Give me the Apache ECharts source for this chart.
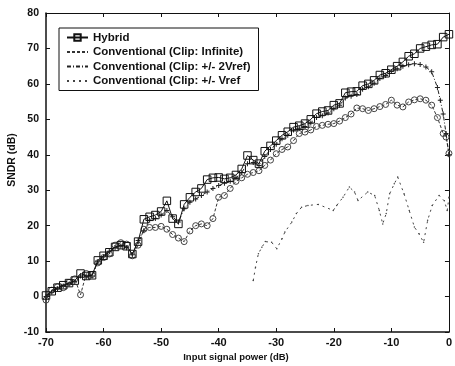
<!DOCTYPE html>
<html>
<head>
<meta charset="utf-8">
<script src="https://cdn.jsdelivr.net/npm/echarts@6/dist/echarts.min.js"></script>
<style>
  html, body { margin: 0; padding: 0; background: #fff; }
  #chart { width: 455px; height: 366px; }
</style>
</head>
<body>
<div id="chart"></div>
<script>
// Input signal power (dB) and SNDR (dB) for each converter variant
const seriesNames = [
  'Hybrid',
  'Conventional (Clip: Infinite)',
  'Conventional (Clip: +/- 2Vref)',
  'Conventional (Clip: +/- Vref'
];

const xTicks = [-70, -60, -50, -40, -30, -20, -10, 0];
const yTicks = [-10, 0, 10, 20, 30, 40, 50, 60, 70, 80];

const hybridX = [-70, -69, -68, -67, -66, -65, -64, -63, -62, -61, -60, -59, -58, -57, -56, -55, -54, -53, -52, -51,
  -50, -49, -48, -47, -46, -45, -44, -43, -42, -41, -40, -39, -38, -37, -36, -35, -34, -33, -32, -31,
  -30, -29, -28, -27, -26, -25, -24, -23, -22, -21, -20, -19, -18, -17, -16, -15, -14, -13, -12, -11,
  -10, -9, -8, -7, -6, -5, -4, -3, -2, -1, 0];
const hybridY = [0.3, 1.5, 2.5, 3.2, 3.8, 4.5, 6.5, 5.8, 6.0, 10.2, 11.5, 12.5, 14.0, 14.5, 14.2, 12.0, 15.5, 21.8, 22.5, 23.0,
  24.0, 27.0, 22.0, 20.5, 26.0, 28.0, 29.5, 30.5, 33.0, 33.5, 33.6, 33.2, 33.5, 34.3, 36.0, 39.8, 38.5, 37.5, 41.0, 42.5,
  44.0, 45.5, 46.5, 47.8, 48.2, 48.8, 50.0, 51.6, 52.2, 52.5, 54.0, 54.5, 57.5, 57.8, 57.9, 59.5, 60.0, 61.0, 62.5, 63.0,
  64.0, 65.0, 66.2, 67.8, 68.5, 70.0, 70.5, 71.0, 71.2, 73.2, 74.0];

const clipInfX = [-70, -69, -68, -67, -66, -65, -64, -63, -62, -61, -60, -59, -58, -57, -56, -55, -54, -53, -52, -51,
  -50, -49, -48, -47, -46, -45, -44, -43, -42, -41, -40, -39, -38, -37, -36, -35, -34, -33, -32, -31,
  -30, -29, -28, -27, -26, -25, -24, -23, -22, -21, -20, -19, -18, -17, -16, -15, -14, -13, -12, -11,
  -10, -9, -8, -7, -6, -5, -4, -3, -2, -1, -0.5, 0];
const clipInfY = [-1.0, 1.8, 2.8, 2.5, 4.0, 5.0, 0.5, 6.5, 6.2, 9.5, 11.0, 12.0, 14.5, 15.2, 14.8, 11.5, 14.5, 19.0, 19.5, 19.5,
  19.8, 19.0, 17.5, 16.5, 15.5, 18.5, 20.0, 20.5, 20.0, 22.0, 28.0, 28.5, 30.5, 32.5, 33.5, 34.5, 35.0, 35.5, 37.0, 38.5,
  40.3, 41.5, 42.2, 44.0, 46.0, 46.4, 47.0, 48.0, 48.3, 48.6, 48.8, 49.5, 50.5, 51.5, 53.2, 53.0, 52.5, 53.0, 53.6, 54.2,
  55.4, 54.0, 53.5, 54.9, 55.5, 55.8, 55.4, 54.0, 50.5, 46.0, 45.0, 40.4];

const clip2VrefX = [-70, -69, -68, -67, -66, -65, -64, -63, -62, -61, -60, -59, -58, -57, -56, -55, -54, -53, -52, -51,
  -50, -49, -48, -47, -46, -45, -44, -43, -42, -41, -40, -39, -38, -37, -36, -35, -34, -33, -32, -31,
  -30, -29, -28, -27, -26, -25, -24, -23, -22, -21, -20, -19, -18, -17, -16, -15, -14, -13, -12, -11,
  -10, -9, -8, -7, -6, -5, -4, -3, -2, -1.5, -1, -0.5, 0];
const clip2VrefY = [0.0, 1.2, 2.2, 3.0, 3.5, 4.2, 5.8, 5.5, 5.8, 9.8, 11.2, 12.8, 13.8, 14.2, 13.8, 11.8, 15.8, 18.6, 21.5, 22.0,
  23.0, 24.3, 22.5, 21.0, 24.8, 26.6, 27.5, 28.5, 29.5, 30.5, 31.3, 32.0, 32.5, 33.5, 35.0, 37.5, 37.8, 37.0, 39.5, 41.5,
  43.0, 44.5, 45.5, 47.0, 47.5, 48.0, 49.0, 50.5, 51.0, 51.8, 53.0, 54.0, 56.0, 56.5, 57.0, 58.5, 59.2, 60.2, 61.5, 62.4,
  63.5, 64.3, 65.0, 65.4, 65.7, 65.5, 64.8, 63.4, 59.0, 55.4, 51.5, 46.0, 40.0];

const clipVrefX = [-34, -33.6, -33.1, -32.5, -31.9, -30.8, -29.9, -29, -28.5, -27.3, -26.5, -25.6, -24.5, -22.7,
  -20.1, -19.5, -18.4, -17.3, -16.4, -15.8, -14.1, -12.9, -12.1, -11.5, -10.9, -10.3, -9.5, -8.9,
  -7.8, -6.9, -6, -5.2, -4.4, -3.7, -2.9, -1.7, -0.8, -0.3, 0];
const clipVrefY = [4.5, 8.3, 12.1, 13.9, 15.5, 15.3, 13.5, 16.3, 18.2, 21.0, 23.4, 25.2, 25.7, 26.0,
  24.3, 25.7, 28.0, 30.9, 29.5, 27.1, 29.5, 28.5, 24.3, 20.5, 23.4, 29.0, 31.8, 33.7,
  29.0, 24.3, 19.6, 17.7, 15.3, 21.5, 25.7, 28.5, 27.0, 24.3, 28.0];

function pairs(xs, ys) {
  return xs.map((x, i) => [x, ys[i]]);
}

const FONT = "'Liberation Sans', Arial, Helvetica, sans-serif";
const INK = '#111';
const CLEAR = 'rgba(0,0,0,0)';
const PLUS = 'path://M4,0h2v4h4v2h-4v4h-2v-4h-4v-2h4z';

const chart = echarts.init(document.getElementById('chart'), null, { renderer: 'canvas' });

const baseX = { type: 'value', min: -70, max: 0, interval: 10, splitLine: { show: false } };
const baseY = { type: 'value', min: -10, max: 80, interval: 10, splitLine: { show: false } };

chart.setOption({
  animation: false,
  backgroundColor: '#fff',
  grid: { left: 46, right: 3, top: 13, bottom: 34, containLabel: false },
  xAxis: [
    Object.assign({}, baseX, {
      position: 'bottom',
      axisLine: { onZero: false, lineStyle: { color: INK, width: 1.5 } },
      axisTick: { inside: true, length: 4, lineStyle: { color: INK } },
      axisLabel: {
        color: INK, fontFamily: FONT, fontSize: 11, fontWeight: 'bold', margin: 5,
        formatter: v => (xTicks.includes(v) ? String(v) : '')
      }
    }),
    Object.assign({}, baseX, {
      position: 'top',
      axisLine: { onZero: false, lineStyle: { color: INK, width: 1 } },
      axisTick: { inside: true, length: 4, lineStyle: { color: INK } },
      axisLabel: { show: false }
    })
  ],
  yAxis: [
    Object.assign({}, baseY, {
      position: 'left',
      axisLine: { onZero: false, lineStyle: { color: INK, width: 1.5 } },
      axisTick: { inside: true, length: 4, lineStyle: { color: INK } },
      axisLabel: {
        color: INK, fontFamily: FONT, fontSize: 10.5, fontWeight: 'bold', margin: 7,
        formatter: v => (yTicks.includes(v) ? String(v) : '')
      }
    }),
    Object.assign({}, baseY, {
      position: 'right',
      axisLine: { onZero: false, lineStyle: { color: INK, width: 1 } },
      axisTick: { inside: true, length: 4, lineStyle: { color: INK } },
      axisLabel: { show: false }
    })
  ],
  legend: {
    orient: 'vertical',
    left: 59,
    top: 28,
    padding: [3, 8, 3, 7],
    itemGap: 1.5,
    itemWidth: 21,
    itemHeight: 8,
    borderColor: INK,
    borderWidth: 1,
    backgroundColor: '#fff',
    textStyle: { color: INK, fontFamily: FONT, fontSize: 11.5, fontWeight: 'bold', lineHeight: 13 },
    data: [
      { name: seriesNames[0] },
      { name: seriesNames[1], itemStyle: { opacity: 0 } },
      { name: seriesNames[2], itemStyle: { opacity: 0 } },
      { name: seriesNames[3], itemStyle: { opacity: 0 } }
    ]
  },
  graphic: [
    {
      type: 'text', x: 12, y: 160, rotation: Math.PI / 2,
      style: { text: 'SNDR (dB)', fill: INK, font: "bold 10.5px " + FONT, align: 'center', verticalAlign: 'middle' }
    },
    {
      type: 'text', x: 236, y: 357,
      style: { text: 'Input signal power (dB)', fill: INK, font: "bold 9.5px " + FONT, align: 'center', verticalAlign: 'middle' }
    }
  ],
  series: [
    {
      name: seriesNames[3],
      type: 'line',
      data: pairs(clipVrefX, clipVrefY),
      symbol: 'circle',
      symbolSize: 1.5,
      itemStyle: { color: '#444' },
      lineStyle: { color: '#444', width: 1, type: [2, 4] },
      z: 2
    },
    {
      name: seriesNames[1],
      type: 'line',
      data: pairs(clipInfX, clipInfY),
      symbol: 'circle',
      symbolSize: 6,
      showAllSymbol: true,
      itemStyle: { color: CLEAR, borderColor: '#444', borderWidth: 1 },
      lineStyle: { color: '#333', width: 1, type: [3, 2] },
      z: 3
    },
    {
      name: seriesNames[2],
      type: 'line',
      data: pairs(clip2VrefX, clip2VrefY),
      symbol: PLUS,
      symbolSize: 5,
      showAllSymbol: true,
      itemStyle: { color: '#222' },
      lineStyle: { color: '#222', width: 1, type: [4, 2, 1, 2] },
      z: 4
    },
    {
      name: seriesNames[0],
      type: 'line',
      data: pairs(hybridX, hybridY),
      symbol: 'rect',
      symbolSize: 7.5,
      showAllSymbol: true,
      itemStyle: { color: CLEAR, borderColor: '#111', borderWidth: 1 },
      lineStyle: { color: '#111', width: 1 },
      z: 5
    }
  ]
});
</script>
</body>
</html>
